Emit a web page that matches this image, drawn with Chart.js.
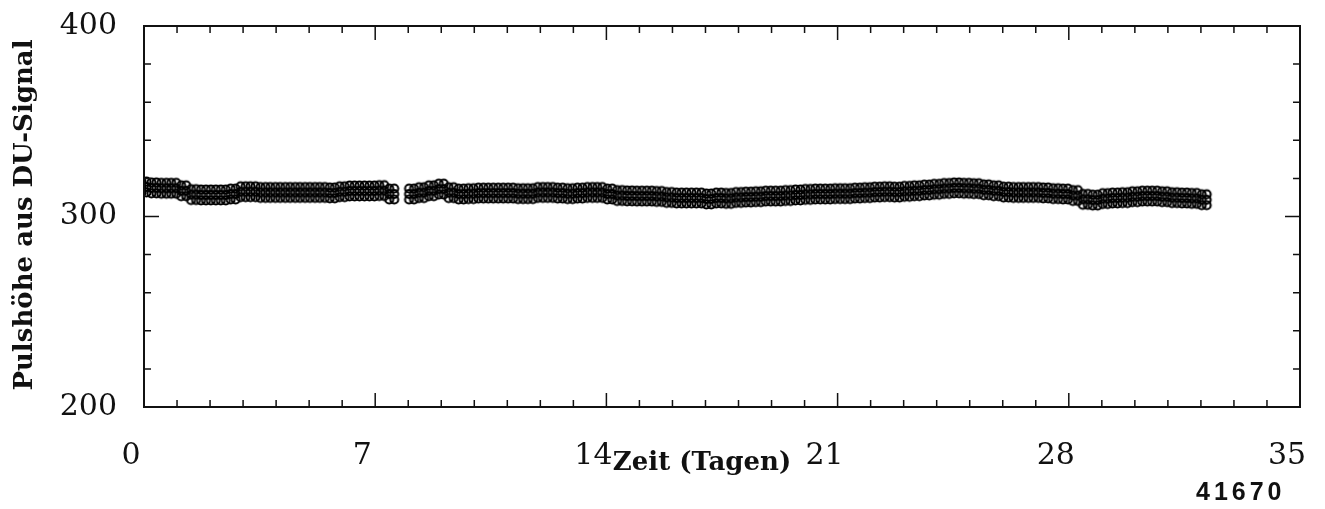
<!DOCTYPE html>
<html>
<head>
<meta charset="utf-8">
<script src="https://cdn.jsdelivr.net/npm/chart.js@4"></script>
<style>
  body { margin: 0; background: #fff; }
  #wrap { position: relative; width: 1325px; height: 509px; }
  #code { position: absolute; left: 1196px; top: 477px; font: bold 25px "Liberation Sans", Arial, sans-serif; letter-spacing: 4px; color: #111; }
</style>
</head>
<body>
<div id="wrap">
  <canvas id="chart" width="1325" height="509"></canvas>
  <div id="code">41670</div>
</div>
<script>
/* data, one value every 0.3 days, null = gap */
var pulse = [
  315.5, 315, 314.8, 314.8, 313.5, 311.5, 311.3, 311.3, 311.3, 311.8,
  313, 313, 312.6, 312.6, 312.6, 312.6, 312.6, 312.6, 312.6, 312.4,
  313, 313.4, 313.4, 313.4, 313.6, 311.8, null, 311.8, 312.5, 313.5,
  314.4, 312.5, 311.8, 312, 312.3, 312.3, 312.3, 312.3, 312, 312,
  312.6, 312.6, 312.3, 312, 312.3, 312.6, 312.6, 311.8, 311, 310.8,
  310.7, 310.7, 310.5, 310, 309.7, 309.7, 309.7, 309.2, 309.7, 309.5,
  310, 310.2, 310.4, 310.7, 310.7, 311, 311.3, 311.6, 311.8, 311.8,
  312, 312, 312.3, 312.5, 312.8, 313, 312.8, 313.2, 313.5, 313.9,
  314.3, 314.7, 315, 314.8, 314.6, 314, 313.5, 312.8, 312.6, 312.6,
  312.6, 312.4, 312, 311.8, 311, 309, 308.6, 309.4, 309.7, 309.9,
  310.4, 310.7, 310.7, 310.4, 309.9, 309.7, 309.5, 308.8
];
var days = pulse.map(function(v, i){ return +(i * 0.3).toFixed(1); });
var xTicks = [0, 7, 14, 21, 28, 35];
var yTicks = [200, 300, 400];

var ink = "#111";

/* marker: small cluster of open circles like the plotted "o" symbols */
function makeMarker(){
  var c = document.createElement("canvas");
  c.width = 22; c.height = 28;
  var g = c.getContext("2d");
  g.strokeStyle = "#000";
  g.lineWidth = 2.1;
  [-2.5, 2.5].forEach(function(dx){
    [-5.5, 0, 5.5].forEach(function(dy){
      g.beginPath();
      g.arc(11 + dx, 14 + dy, 4, 0, Math.PI * 2);
      g.stroke();
    });
  });
  return c;
}

/* frame with inward ticks on all four sides */
var framePlugin = {
  id: "frame",
  afterDraw: function(chart){
    var ctx = chart.ctx, a = chart.chartArea;
    var xs = chart.scales.x, ys = chart.scales.y;
    ctx.save();
    ctx.strokeStyle = ink;
    ctx.lineWidth = 2;
    ctx.strokeRect(a.left, a.top, a.right - a.left, a.bottom - a.top);
    ctx.lineWidth = 1.5;
    ctx.beginPath();
    for (var d = 1; d < 35; d++) {
      var px = xs.getPixelForValue(d);
      var len = d % 7 === 0 ? 14 : 7;
      ctx.moveTo(px, a.bottom); ctx.lineTo(px, a.bottom - len);
      ctx.moveTo(px, a.top); ctx.lineTo(px, a.top + len);
    }
    for (var v = 220; v < 400; v += 20) {
      var py = ys.getPixelForValue(v);
      var l = v % 100 === 0 ? 15 : 7;
      ctx.moveTo(a.left, py); ctx.lineTo(a.left + l, py);
      ctx.moveTo(a.right, py); ctx.lineTo(a.right - l, py);
    }
    ctx.stroke();

    ctx.fillStyle = ink;
    ctx.font = "bold 26px 'DejaVu Serif', serif";
    ctx.textAlign = "center";
    ctx.textBaseline = "middle";
    ctx.fillText("Zeit (Tagen)", 702, 463);
    ctx.translate(25, 215);
    ctx.rotate(-Math.PI / 2);
    ctx.fillText("Pulshöhe aus DU-Signal", 0, 0);
    ctx.restore();
  }
};

new Chart(document.getElementById("chart"), {
  type: "scatter",
  data: {
    datasets: [{
      label: "Pulshöhe",
      data: days.map(function(d, i){ return { x: d, y: pulse[i] }; }),
      pointStyle: makeMarker(),
      pointRadius: 6,
      showLine: false
    }]
  },
  options: {
    responsive: false,
    animation: false,
    layout: { padding: { left: 0, right: 25, top: 26, bottom: 0 } },
    plugins: { legend: { display: false }, tooltip: { enabled: false } },
    scales: {
      x: {
        type: "linear", min: 0, max: 35,
        afterBuildTicks: function(s){ s.ticks = xTicks.map(function(v){ return { value: v }; }); },
        afterFit: function(s){ s.height = 102; s.paddingLeft = 0; s.paddingRight = 0; },
        grid: { display: false, drawTicks: false },
        border: { display: false },
        ticks: {
          color: ink, padding: 31, labelOffset: -13,
          font: { family: "'DejaVu Serif', serif", size: 30 }
        }
      },
      y: {
        min: 200, max: 400,
        afterBuildTicks: function(s){ s.ticks = yTicks.map(function(v){ return { value: v }; }); },
        afterFit: function(s){ s.width = 144; s.paddingTop = 0; s.paddingBottom = 0; },
        grid: { display: false, drawTicks: false },
        border: { display: false },
        ticks: {
          color: ink, padding: 27,
          font: { family: "'DejaVu Serif', serif", size: 30 }
        }
      }
    }
  },
  plugins: [framePlugin]
});
</script>
</body>
</html>
